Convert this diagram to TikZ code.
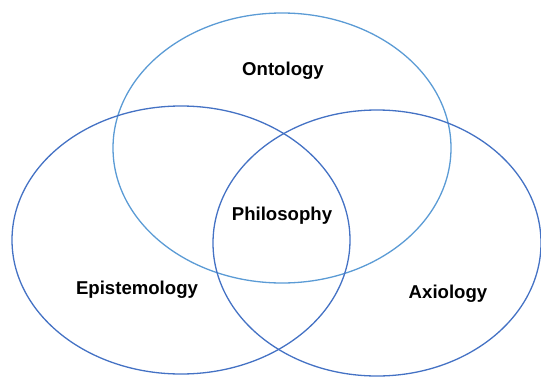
\documentclass[tikz,border=0pt]{standalone}
\usepackage{fontspec}
\setmainfont{Liberation Sans}
\begin{document}
\begin{tikzpicture}[x=1pt,y=-1pt,
  ring/.style={line width=1.3pt},
  lbl/.style={font=\fontsize{18.6}{20}\selectfont\bfseries, inner sep=0pt}]
\definecolor{lightblue}{HTML}{5B9BD5}
\definecolor{darkblue}{HTML}{4472C4}
\useasboundingbox (0,0) rectangle (541,378);
% three overlapping circles of the Venn diagram
\draw[ring, lightblue] (282,148) ellipse [x radius=169, y radius=135];
\draw[ring, darkblue] (181,240) ellipse [x radius=169, y radius=134];
\draw[ring, darkblue] (377,243) ellipse [x radius=164, y radius=133];
% labels
\node[lbl] (onto) at (283,71) {Ontology};
\node[lbl] (phil) at (282,216) {Philosophy};
\node[lbl] (epis) at (137,290) {Epistemology};
\node[lbl] (axio) at (448,294) {Axiology};
\end{tikzpicture}
\end{document}
